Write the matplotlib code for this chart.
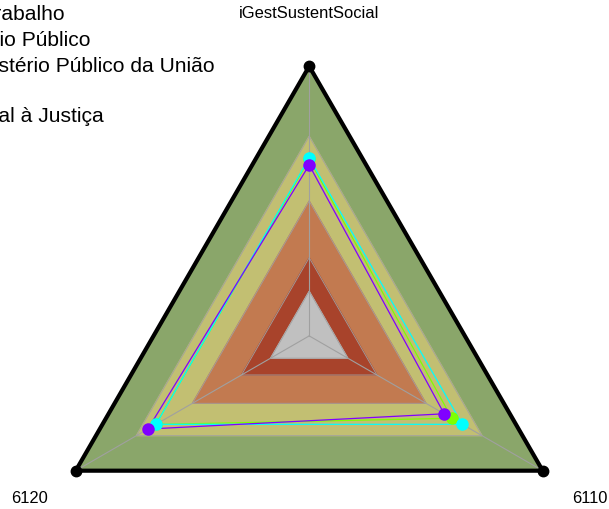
import numpy as np
import matplotlib
matplotlib.use("Agg")
from matplotlib import pyplot as plt

plt.rcParams['font.family'] = ['Liberation Sans', 'DejaVu Sans']

# radar axes (clockwise from top)
axis_labels = ["iGestSustentSocial", "6110", "6120"]

# background bands, outer to inner, as fraction of full radius
band_levels = [1.0, 0.74, 0.5, 0.29, 0.165]
band_colors = ["#8AA66A", "#C2BF72", "#C27A50", "#A8432B", "#C0C0C0"]

# series values (fraction of full radius), drawn in this order
series_names = ["Ministério Público",
                "Ministério Público do Trabalho",
                "Ministério Público da União"]
green_vals = [0.655, 0.611, 0.657]
cyan_vals = [0.66, 0.656, 0.656]
purple_vals = [0.634, 0.578, 0.691]
series_colors = ["#7FFF00", "#00FFFF", "#8000FF"]

# legend text (left side is cut off in the original)
legend_lines = ["Ministério Público do Trabalho",
                "Ministério Público",
                "Ministério Público da União",
                "",
                "Acesso Integral à Justiça"]

angles = np.deg2rad(90 - np.arange(len(axis_labels)) * 360 / len(axis_labels))


def to_xy(vals):
    vals = np.asarray(vals, dtype=float)
    x = vals * np.cos(angles)
    y = vals * np.sin(angles)
    # close polygon
    return np.append(x, x[0]), np.append(y, y[0])


fig = plt.figure(figsize=(6.09, 5.10), dpi=100)
ax = fig.add_axes([0, 0, 1, 1])
ax.set_xlim(-1.1469, 1.1120)
ax.set_ylim(-0.6421, 1.2496)
ax.axis('off')

# bands
for lvl, col in zip(band_levels, band_colors):
    x, y = to_xy([lvl] * len(axis_labels))
    ax.fill(x, y, color=col, zorder=1)
    ax.plot(x, y, color="#A0A0A0", lw=0.6, zorder=2)

# spokes
for a in angles:
    ax.plot([0, np.cos(a)], [0, np.sin(a)], color="#A0A0A0", lw=0.8, zorder=2)

# outer frame
x, y = to_xy([1.0] * len(axis_labels))
ax.plot(x, y, color="black", lw=3, zorder=3, solid_joinstyle='miter')
ax.plot(x[:-1], y[:-1], 'o', color="black", ms=7.5, zorder=4)

# series
for vals, col, name in zip([green_vals, cyan_vals, purple_vals], series_colors, series_names):
    x, y = to_xy(vals)
    ax.plot(x, y, color=col, lw=0.9, zorder=5, label=name)
    ax.plot(x[:-1], y[:-1], 'o', color=col, ms=8, zorder=6)

# axis labels
for a, lab in zip(angles, axis_labels):
    ax.text(1.2 * np.cos(a), 1.2 * np.sin(a), lab, ha='center', va='center',
            fontsize=11.9)

# legend text, right aligned so it runs off the left edge
legend_right = [65, 90, 215, None, 104]
legend_base = [20, 46, 72, 97, 122]
for txt, xr, yb in zip(legend_lines, legend_right, legend_base):
    if not txt or xr is None:
        continue
    fig.text(xr / 609, 1 - yb / 510, txt, ha='right', va='baseline', fontsize=15.1)

plt.savefig("out.png", dpi=100)
